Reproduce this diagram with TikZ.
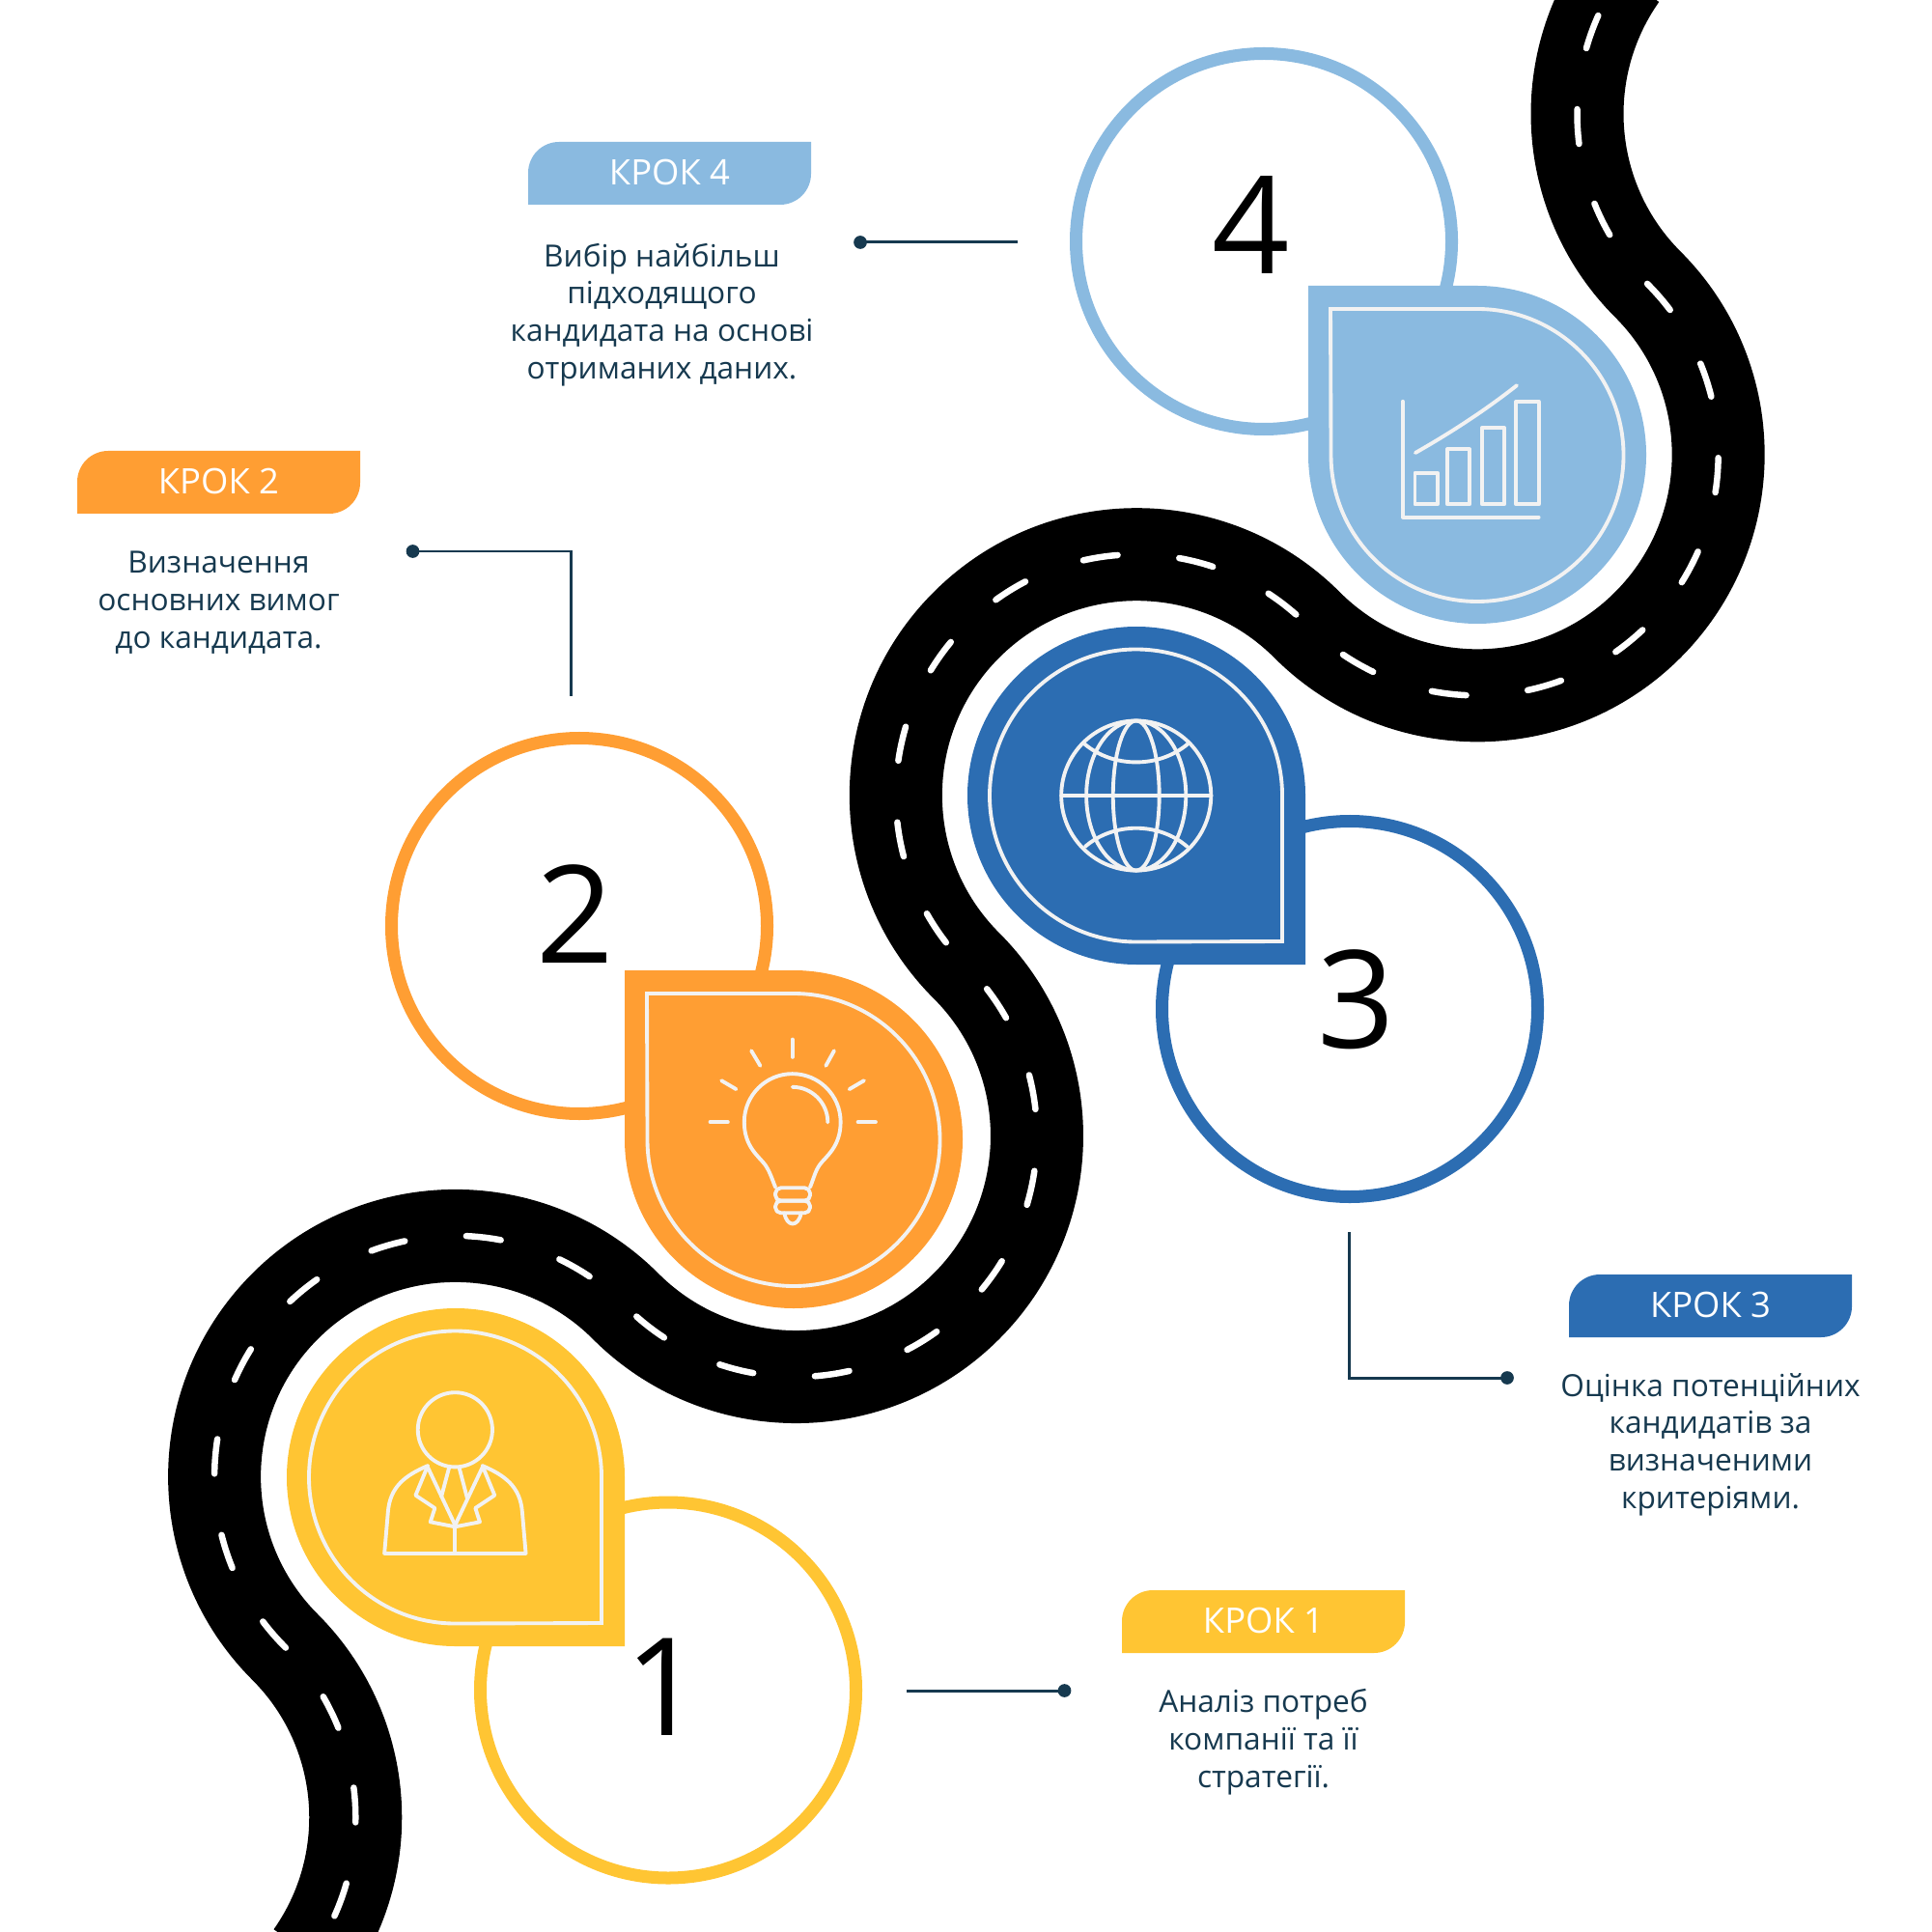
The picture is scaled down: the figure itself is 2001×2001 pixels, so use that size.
\documentclass[tikz,border=0pt]{standalone}
\usepackage{fontspec}
\setmainfont{Open Sans}
\definecolor{cY}{HTML}{FFC533}
\definecolor{cO}{HTML}{FF9E33}
\definecolor{cB}{HTML}{2C6DB2}
\definecolor{cL}{HTML}{8ABAE0}
\definecolor{cN}{HTML}{16394F}
\definecolor{cI}{HTML}{F2F2F2}
\tikzset{
  px/.style={x=0.01cm,y=-0.01cm},
  icon/.style={draw=cI,line width=1.1pt,line join=round,line cap=round},
  inrim/.style={draw=cI,line width=1.1pt,line join=miter},
  ringline/.style={line width=3.7pt,fill=white},
  conn/.style={draw=cN,line width=0.85pt},
  dotn/.style={circle,fill=cN,inner sep=0pt,minimum size=3.9pt},
  body/.style={text=cN,align=center,inner sep=0pt,font=\fontsize{9.0}{11}\selectfont},
  tag/.style={text=white,inner sep=0pt,font=\fontsize{10.35}{12}\selectfont},
  num/.style={text=black,inner sep=0pt,font=\fontsize{40}{50}\selectfont},
  zoomed/.style={x=0.003333cm,y=-0.003333cm}
}
\def\roadrest{arc[start angle=-45,end angle=135,radius=249.5]
 arc[start angle=315,end angle=135,radius=249.5]
 arc[start angle=-45,end angle=135,radius=249.5]
 arc[start angle=315,end angle=135,radius=249.5]
 arc[start angle=-45,end angle=35,radius=249.5]}
\begin{document}
\begin{tikzpicture}[px]
\useasboundingbox (0,0) rectangle (2001,2001);
\begin{scope}
\clip (0,0) rectangle (2001,2001);
\draw[black,line width=27.3pt] (1883,118) ++(215:249.5) arc[start angle=215,end angle=135,radius=249.5] \roadrest;
\draw[white,line width=1.85pt,line cap=round,dash pattern=on 10.24pt off 18.21pt] (1883,118) ++(204.1:249.5) arc[start angle=204.1,end angle=135,radius=249.5] \roadrest;
\end{scope}
% rings
\node[draw=cY,ringline,circle,minimum size=389*0.01cm,inner sep=0pt] (r1) at (692,1750.5) {};
\node[draw=cO,ringline,circle,minimum size=389*0.01cm,inner sep=0pt] (r2) at (600,959) {};
\node[draw=cB,ringline,circle,minimum size=389*0.01cm,inner sep=0pt] (r3) at (1398,1045) {};
\node[draw=cL,ringline,circle,minimum size=389*0.01cm,inner sep=0pt] (r4) at (1309,250) {};
% teardrops
\fill[cY] (647,1705) -- (647,1530) arc[start angle=360,end angle=90,radius=175] -- cycle;
\draw[inrim] (623,1681) -- (623,1530) arc[start angle=360,end angle=90,radius=151.5] -- cycle;
\fill[cO] (647,1005) -- (822,1005) arc[start angle=270,end angle=540,radius=175] -- cycle;
\draw[inrim] (670,1029) -- (822,1029) arc[start angle=270,end angle=540,radius=151.5] -- cycle;
\fill[cB] (1352,999) -- (1352,824) arc[start angle=360,end angle=90,radius=175] -- cycle;
\draw[inrim] (1328,975) -- (1328,824) arc[start angle=360,end angle=90,radius=151.5] -- cycle;
\fill[cL] (1355,296) -- (1530,296) arc[start angle=270,end angle=540,radius=175] -- cycle;
\draw[inrim] (1378,320) -- (1530,320) arc[start angle=270,end angle=540,radius=151.5] -- cycle;
% numbers
\node[num] (n1) at (688,1747) {1};
\node[num] (n2) at (596,947) {2};
\node[num] (n3) at (1405,1035) {3};
\node[num] (n4) at (1296,233) {4};
% person
\begin{scope}[shift={(280,1350)},zoomed]
\draw[icon] (575,393) circle[radius=116];
\draw[icon] (490,505) .. controls (420,535) and (372,570) .. (366,650) -- (355,778) -- (795,778) -- (784,650) .. controls (778,570) and (730,535) .. (660,505);
\draw[icon] (490,505) -- (452,597) -- (512,637) -- (498,680) -- (575,695) -- (652,680) -- (638,637) -- (698,597) -- (660,505);
\draw[icon] (490,510) -- (575,690) -- (660,510);
\draw[icon] (556,512) -- (532,602);
\draw[icon] (588,512) -- (613,607);
\draw[icon] (575,695) -- (575,778);
\end{scope}
% bulb
\begin{scope}[shift={(640,1000)},zoomed]
\draw[icon] (543,230) -- (543,285);
\draw[icon] (415,265) -- (443,312);
\draw[icon] (322,358) -- (368,385);
\draw[icon] (287,487) -- (342,487);
\draw[icon] (673,265) -- (647,312);
\draw[icon] (766,358) -- (720,385);
\draw[icon] (747,487) -- (802,487);
\draw[icon] (490,690) .. controls (478,660) and (472,640) .. (458,620) .. controls (440,595) and (393,565) .. (393,487) arc[start angle=180,end angle=360,radius=150] .. controls (693,565) and (646,595) .. (628,620) .. controls (614,640) and (610,660) .. (598,690);
\draw[icon,rounded corners=1.6pt] (490,692) rectangle (598,732);
\draw[icon,rounded corners=1.6pt] (490,732) rectangle (598,770);
\draw[icon] (518,770) .. controls (525,815) and (562,815) .. (570,770);
\draw[icon] (543,378) arc[start angle=270,end angle=360,radius=110];
\end{scope}
% globe
\begin{scope}[shift={(1000,640)},zoomed]
\draw[icon] (531,553) circle[radius=233];
\draw[icon] (298,553) -- (765,553);
\draw[icon] (531,553) ellipse[x radius=72,y radius=233];
\draw[icon] (531,553) ellipse[x radius=155,y radius=233];
\draw[icon] (370,392) .. controls (460,468) and (602,468) .. (692,392);
\draw[icon] (372,712) .. controls (460,635) and (602,635) .. (690,712);
\end{scope}
% chart
\begin{scope}[shift={(1360,290)},zoomed]
\draw[icon] (279,378) -- (279,738) -- (702,738);
\draw[icon] (317,600) rectangle (387,698);
\draw[icon] (417,527) rectangle (487,698);
\draw[icon] (525,460) rectangle (595,698);
\draw[icon] (632,378) rectangle (702,698);
\draw[icon] (318,538) .. controls (420,480) and (530,410) .. (634,328);
\end{scope}
% tags
\fill[cL] (547,212) -- (547,179) arc[start angle=180,end angle=270,radius=32] -- (840,147) -- (840,180) arc[start angle=0,end angle=90,radius=32] -- cycle;
\node[tag] (t4) at (693.5,178) {КРОК 4};
\fill[cO] (80,532) -- (80,499) arc[start angle=180,end angle=270,radius=32] -- (373,467) -- (373,500) arc[start angle=0,end angle=90,radius=32] -- cycle;
\node[tag] (t2) at (226.5,498) {КРОК 2};
\fill[cB] (1625,1385) -- (1625,1352) arc[start angle=180,end angle=270,radius=32] -- (1918,1320) -- (1918,1353) arc[start angle=0,end angle=90,radius=32] -- cycle;
\node[tag] (t3) at (1771.5,1351) {КРОК 3};
\fill[cY] (1162,1712) -- (1162,1679) arc[start angle=180,end angle=270,radius=32] -- (1455,1647) -- (1455,1680) arc[start angle=0,end angle=90,radius=32] -- cycle;
\node[tag] (t1) at (1308.5,1678) {КРОК 1};
% texts
\node[body] (b4) at (685.5,326) {Вибір найбільш\\підходящого\\кандидата на основі\\отриманих даних.};
\node[body] (b2) at (226.5,624) {Визначення\\основних вимог\\до кандидата.};
\node[body] (b3) at (1771.5,1496) {Оцінка потенційних\\кандидатів за\\визначеними\\критеріями.};
\node[body] (b1) at (1308.5,1804) {Аналіз потреб\\компанії та її\\стратегії.};
% connectors
\node[dotn] (d4) at (891,251) {};
\coordinate (e4) at (1054,251);
\draw[conn] (d4.center) -- (e4);
\node[dotn] (d2) at (427.5,571) {};
\coordinate (e2) at (591,721);
\draw[conn] (d2.center) -| (e2);
\node[dotn] (d3) at (1561,1427) {};
\coordinate (e3) at (1397.5,1276);
\draw[conn] (d3.center) -| (e3);
\node[dotn] (d1) at (1102.5,1751) {};
\coordinate (e1) at (939,1751);
\draw[conn] (d1.center) -- (e1);
\end{tikzpicture}
\end{document}
